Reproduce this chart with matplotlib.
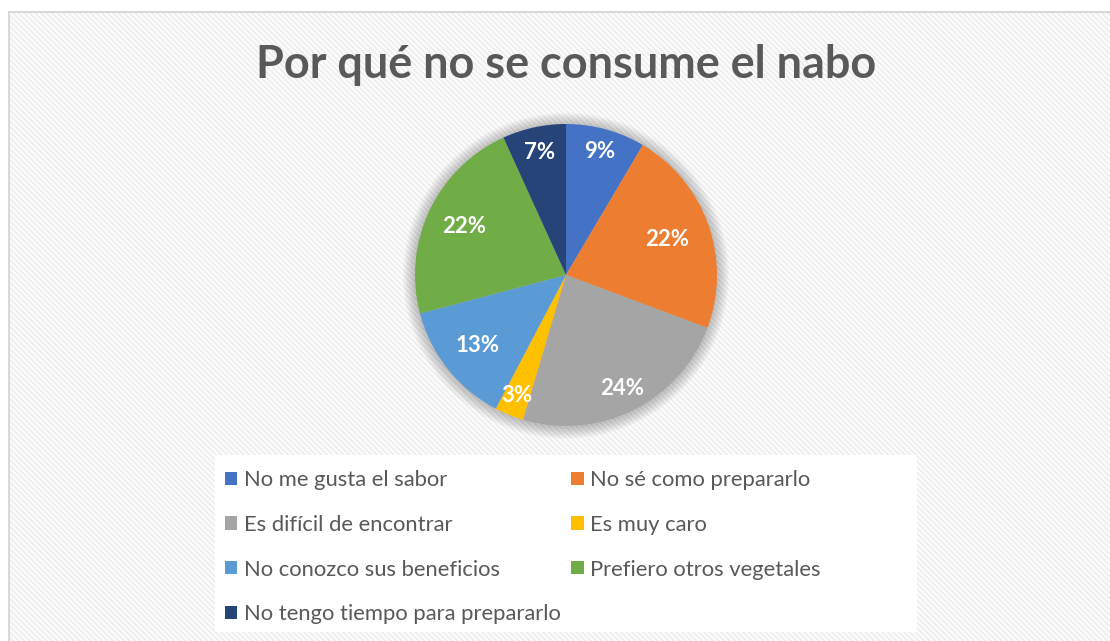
import numpy as np
import matplotlib.pyplot as plt
from matplotlib.patches import Rectangle, Circle

categorias = ["No me gusta el sabor", "No sé como prepararlo", "Es difícil de encontrar",
              "Es muy caro", "No conozco sus beneficios", "Prefiero otros vegetales",
              "No tengo tiempo para prepararlo"]
porcentajes = [8.5, 22.2, 23.9, 3.1, 13.2, 22.3, 6.8]
etiquetas = ["9%", "22%", "24%", "3%", "13%", "22%", "7%"]
colores = ["#4472C4", "#ED7D31", "#A5A5A5", "#FFC000", "#5B9BD5", "#70AD47", "#264478"]
titulo = "Por qué no se consume el nabo"

# distancia radial de cada etiqueta (como en excel, no todas iguales)
dist_etiquetas = [0.85, 0.71, 0.84, 0.86, 0.75, 0.75, 0.83]

W, H = 1110, 641
plt.rcParams['font.family'] = ['Lato', 'DejaVu Sans']
plt.rcParams['hatch.linewidth'] = 1.6

fig = plt.figure(figsize=(W / 100, H / 100), dpi=100)
fig.patch.set_facecolor('white')

# fondo rayado y borde del grafico
fondo = Rectangle((9 / W, 0), 1, 1 - 12 / H, transform=fig.transFigure,
                  facecolor='white', edgecolor='#efefef', linewidth=0, hatch='\\\\\\\\\\\\', zorder=-3)
fig.patches.append(fondo)
borde = Rectangle((9 / W, -0.1), 1, 1.1 - 12 / H, transform=fig.transFigure,
                  facecolor='none', edgecolor='#d9d9d9', linewidth=1.5, zorder=-2)
fig.patches.append(borde)

# caja blanca de la leyenda
caja = Rectangle((215 / W, 1 - 632 / H), (917 - 215) / W, (632 - 455) / H, transform=fig.transFigure,
                 facecolor='white', edgecolor='none', zorder=-1)
fig.patches.append(caja)

fig.text(566 / W, 1 - 65 / H, titulo, ha='center', va='center', fontsize=32.4,
         fontweight='bold', color='#595959')

# pastel
cx, cy, r = 566, 275, 151
lado = 2 * r * 1.15
ax = fig.add_axes([(cx - lado / 2) / W, 1 - (cy + lado / 2) / H, lado / W, lado / H])
ax.set_zorder(1)

# sombra suave
for i in range(10):
    ax.add_patch(Circle((0, -0.005), 1.0 + 0.008 * (i + 1), color='#000000', alpha=0.022, lw=0, zorder=0))

cont = [0]
def fmt(p):
    t = etiquetas[cont[0]]
    cont[0] += 1
    return t

wedges, textos, autotextos = ax.pie(porcentajes, colors=colores, startangle=90, counterclock=False,
                                    autopct=fmt, pctdistance=0.8, radius=1,
                                    wedgeprops=dict(linewidth=0))
for w, t, d in zip(wedges, autotextos, dist_etiquetas):
    w.set_zorder(2)
    ang = np.deg2rad((w.theta1 + w.theta2) / 2)
    t.set_position((d * np.cos(ang), d * np.sin(ang)))
    t.set_color('white')
    t.set_fontsize(16)
    t.set_fontweight('bold')
    t.set_zorder(3)

ax.set_xlim(-1.15, 1.15)
ax.set_ylim(-1.15, 1.15)
ax.set_aspect('equal')
ax.axis('off')

orden = [0, 2, 4, 6, 1, 3, 5]
ley = fig.legend([wedges[i] for i in orden], [categorias[i] for i in orden], ncol=2,
                 loc='upper left', bbox_to_anchor=(214 / W, 1 - 459 / H), frameon=False,
                 fontsize=15.8, labelcolor='#595959', handlelength=0.55, handleheight=0.55,
                 handletextpad=0.3, columnspacing=0.5, labelspacing=1.13, borderpad=0)
ley.set_zorder(3)

fig.savefig('out.png', dpi=100)
